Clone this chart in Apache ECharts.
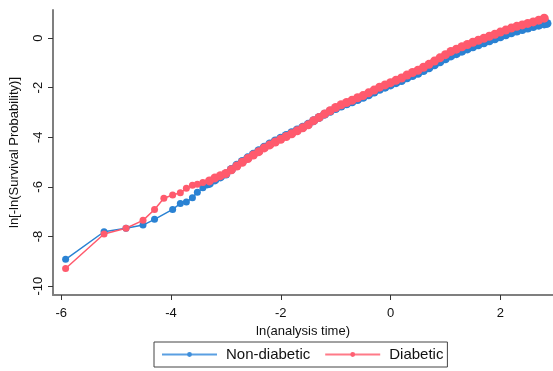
<!DOCTYPE html>
<html>
<head>
<meta charset="utf-8">
<script src="https://cdn.jsdelivr.net/npm/echarts@6/dist/echarts.min.js"></script>
<style>
  html, body { margin: 0; padding: 0; background: #fff; }
  #chart { width: 553px; height: 371px; }
</style>
</head>
<body>
<div id="chart"></div>
<script>
// ln(analysis time) and ln[-ln(S(t))] for each group
const nonDiabeticTime = [
  -5.92, -5.22, -4.82, -4.51, -4.30, -3.97, -3.83, -3.72, -3.61, -3.52, -3.42, -3.35,
  -3.3, -3.2, -3.1, -3.0, -2.9, -2.8, -2.7, -2.6, -2.5, -2.4, -2.3, -2.2, -2.1, -2.0,
  -1.9, -1.8, -1.7, -1.6, -1.5, -1.4, -1.3, -1.2, -1.1, -1.0, -0.9, -0.8, -0.7, -0.6,
  -0.5, -0.4, -0.3, -0.2, -0.1, 0.0, 0.1, 0.2, 0.3, 0.4, 0.5, 0.6, 0.7, 0.8, 0.9,
  1.0, 1.1, 1.2, 1.3, 1.4, 1.5, 1.6, 1.7, 1.8, 1.9, 2.0, 2.1, 2.2, 2.3, 2.4, 2.5,
  2.6, 2.7, 2.8, 2.85
];
const nonDiabeticValue = [
  -8.92, -7.81, -7.67, -7.54, -7.31, -6.91, -6.67, -6.61, -6.44, -6.22, -6.04, -5.93,
  -5.86, -5.72, -5.60, -5.48, -5.30, -5.13, -4.98, -4.83, -4.69, -4.54, -4.40, -4.27, -4.15, -4.04,
  -3.93, -3.82, -3.71, -3.60, -3.48, -3.33, -3.20, -3.07, -2.95, -2.84, -2.74, -2.65, -2.57, -2.48,
  -2.39, -2.29, -2.18, -2.07, -1.98, -1.89, -1.80, -1.71, -1.60, -1.51, -1.42, -1.31, -1.20, -1.08, -0.96,
  -0.84, -0.72, -0.63, -0.53, -0.44, -0.35, -0.27, -0.19, -0.11, -0.03, 0.05, 0.13, 0.21, 0.28, 0.34, 0.40,
  0.46, 0.52, 0.57, 0.59
];
const diabeticTime = [
  -5.92, -5.22, -4.82, -4.51, -4.30, -4.13, -3.97, -3.83, -3.72, -3.61, -3.52, -3.42,
  -3.3, -3.2, -3.1, -3.0, -2.9, -2.8, -2.7, -2.6, -2.5, -2.4, -2.3, -2.2, -2.1, -2.0,
  -1.9, -1.8, -1.7, -1.6, -1.5, -1.4, -1.3, -1.2, -1.1, -1.0, -0.9, -0.8, -0.7, -0.6,
  -0.5, -0.4, -0.3, -0.2, -0.1, 0.0, 0.1, 0.2, 0.3, 0.4, 0.5, 0.6, 0.7, 0.8, 0.9,
  1.0, 1.1, 1.2, 1.3, 1.4, 1.5, 1.6, 1.7, 1.8, 1.9, 2.0, 2.1, 2.2, 2.3, 2.4, 2.5,
  2.6, 2.7, 2.8
];
const diabeticValue = [
  -9.29, -7.90, -7.67, -7.35, -6.91, -6.46, -6.33, -6.24, -6.06, -5.94, -5.90, -5.82,
  -5.76, -5.64, -5.55, -5.46, -5.31, -5.16, -5.01, -4.86, -4.72, -4.58, -4.43, -4.31, -4.19, -4.08,
  -3.97, -3.86, -3.74, -3.62, -3.50, -3.33, -3.20, -3.06, -2.93, -2.80, -2.69, -2.60, -2.51, -2.41,
  -2.32, -2.21, -2.10, -1.98, -1.89, -1.80, -1.70, -1.61, -1.49, -1.39, -1.30, -1.18, -1.06, -0.93, -0.80,
  -0.67, -0.54, -0.45, -0.35, -0.26, -0.17, -0.09, -0.01, 0.07, 0.15, 0.24, 0.32, 0.40, 0.47, 0.53, 0.59,
  0.65, 0.72, 0.80
];
const xTicks = [-6, -4, -2, 0, 2];
const yTicks = [-10, -8, -6, -4, -2, 0];

const pairs = (xs, ys) => xs.map((x, i) => [x, ys[i]]);

const blue = '#2a82d3';
const red = '#ff5a6d';
const font = 'Liberation Sans, Arial, sans-serif';

// markers are drawn a little larger where the event times crowd together
const markerSize = (value) => (value[0] > -3.32 ? 9 : 7);

const chart = echarts.init(document.getElementById('chart'), null, { renderer: 'canvas' });

const axisCommon = {
  type: 'value',
  splitLine: { show: false },
  axisLine: { show: true, onZero: false, lineStyle: { color: '#7f7f7f', width: 2 } },
  axisTick: { show: true, inside: false, length: 5, lineStyle: { color: '#333', width: 1 } },
  nameTextStyle: { fontFamily: font, fontSize: 13, color: '#111' }
};

chart.setOption({
  animation: false,
  backgroundColor: '#fff',
  grid: { left: 51, right: 0, top: 10, bottom: 76, containLabel: false },
  xAxis: Object.assign({}, axisCommon, {
    min: -6.15, max: 2.96,
    name: 'ln(analysis time)',
    nameLocation: 'middle',
    nameGap: 27,
    axisTick: Object.assign({}, axisCommon.axisTick, { customValues: xTicks }),
    axisLabel: { customValues: xTicks, margin: 12, fontFamily: font, fontSize: 13, color: '#111',
      formatter: v => String(v) }
  }),
  yAxis: Object.assign({}, axisCommon, {
    min: -10.36, max: 1.13,
    name: 'ln[-ln(Survival Probability)]',
    nameLocation: 'middle',
    nameGap: 32,
    nameRotate: 90,
    axisTick: Object.assign({}, axisCommon.axisTick, { customValues: yTicks }),
    axisLabel: { customValues: yTicks, margin: 8, rotate: 90, fontFamily: font, fontSize: 13, color: '#111',
      formatter: v => String(v) }
  }),
  legend: {
    left: 154, top: 342,
    padding: [5, 4, 5, 7],
    itemWidth: 55, itemHeight: 6,
    itemGap: 14,
    borderColor: '#444', borderWidth: 1,
    textStyle: { fontFamily: font, fontSize: 15, color: '#111', padding: [0, 0, 0, 4] },
    data: [
      { name: 'Non-diabetic', itemStyle: { color: '#3f8fdb' }, lineStyle: { color: '#5a9fe2', width: 2 } },
      { name: 'Diabetic', itemStyle: { color: '#ff5f72' }, lineStyle: { color: '#ff7a88', width: 2 } }
    ]
  },
  series: [
    {
      name: 'Non-diabetic', type: 'line',
      data: pairs(nonDiabeticTime, nonDiabeticValue),
      symbol: 'circle', symbolSize: markerSize, showAllSymbol: true,
      lineStyle: { color: blue, width: 1.5 },
      itemStyle: { color: blue },
      emphasis: { disabled: true }
    },
    {
      name: 'Diabetic', type: 'line',
      data: pairs(diabeticTime, diabeticValue),
      symbol: 'circle', symbolSize: markerSize, showAllSymbol: true,
      lineStyle: { color: red, width: 1.5 },
      itemStyle: { color: red },
      emphasis: { disabled: true }
    }
  ]
});
</script>
</body>
</html>
